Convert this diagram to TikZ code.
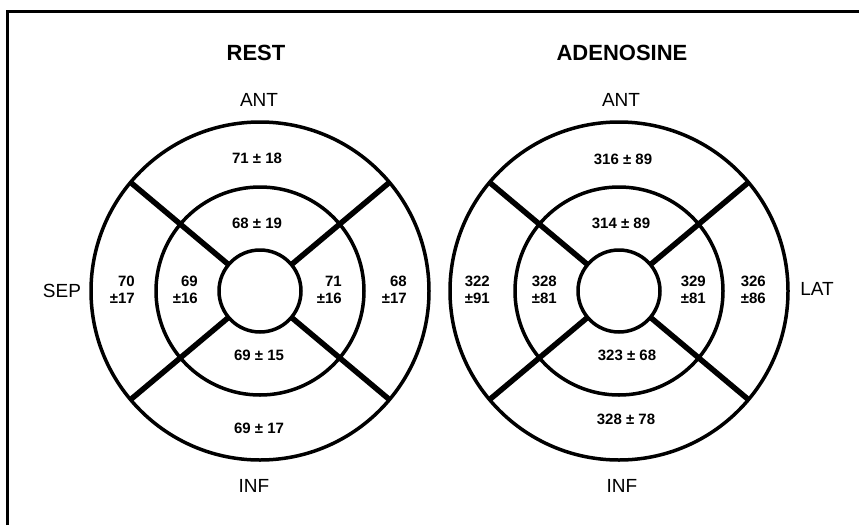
\documentclass[tikz,border=0pt]{standalone}
\usepackage{fontspec}
\setmainfont{Liberation Sans}
\begin{document}
\begin{tikzpicture}[x=1pt,y=-1pt,
  frame/.style={line width=3pt},
  ring/.style={line width=3.5pt},
  divider/.style={line width=5.5pt},
  num/.style={font=\bfseries\fontsize{15}{17}\selectfont, inner sep=0pt, align=right},
  side/.style={font=\fontsize{19}{22}\selectfont, inner sep=0pt},
  ttl/.style={font=\bfseries\fontsize{22}{24}\selectfont, inner sep=0pt}]
\useasboundingbox (0,0) rectangle (859,525);
% frame
\coordinate (fbl) at (7,525);
\coordinate (ftl) at (7,11);
\coordinate (ftr) at (859,11);
\draw[frame] (fbl) -- (ftl) -- (ftr);
% centres
\coordinate (cL) at (260,291);
\coordinate (cR) at (619,291);
\foreach \c in {cL,cR}{
  \foreach \a in {40,140,220,320}{
    \draw[divider] (\c) ++(\a:41) -- ++(\a:128);
  }
  \draw[ring] (\c) circle[radius=169];
  \draw[ring] (\c) circle[radius=104];
  \draw[ring] (\c) circle[radius=41];
}
% titles and side labels
\node[ttl] (tRest) at (256,53) {REST};
\node[ttl] (tAden) at (622,53) {ADENOSINE};
\node[side] (antL) at (259,100) {ANT};
\node[side] (antR) at (621,100) {ANT};
\node[side] (sep) at (62,291) {SEP};
\node[side] (lat) at (817,289) {LAT};
\node[side] (infL) at (254,486) {INF};
\node[side] (infR) at (622,486) {INF};
% rest values
\node[num] (r1) at (257,158) {71 ± 18};
\node[num] (r2) at (257,223) {68 ± 19};
\node[num, anchor=east] (r3) at (135,290) {70\\±17};
\node[num, anchor=east] (r4) at (198,290) {69\\±16};
\node[num, anchor=east] (r5) at (342,290) {71\\±16};
\node[num, anchor=east] (r6) at (407,290) {68\\±17};
\node[num] (r7) at (259,355) {69 ± 15};
\node[num] (r8) at (259,428) {69 ± 17};
% adenosine values
\node[num] (a1) at (623,159) {316 ± 89};
\node[num] (a2) at (621,223) {314 ± 89};
\node[num, anchor=east] (a3) at (490,290) {322\\±91};
\node[num, anchor=east] (a4) at (557,290) {328\\±81};
\node[num, anchor=east] (a5) at (706,290) {329\\±81};
\node[num, anchor=east] (a6) at (766,290) {326\\±86};
\node[num] (a7) at (627,355) {323 ± 68};
\node[num] (a8) at (626,419) {328 ± 78};
\end{tikzpicture}
\end{document}
